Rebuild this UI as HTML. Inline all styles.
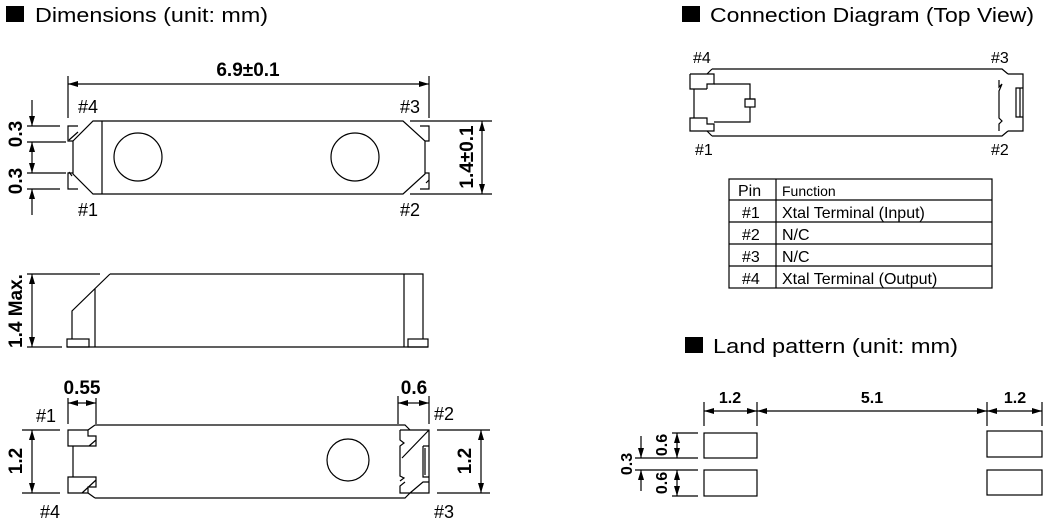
<!DOCTYPE html>
<html><head><meta charset="utf-8"><style>
html,body{margin:0;padding:0;background:#fff;}
svg{display:block;}
text{font-family:"Liberation Sans",sans-serif;fill:#000;}
.t{font-size:20px;}
.d{font-size:19px;font-weight:bold;}
.p{font-size:18px;}
.s{font-size:16px;}
</style></head><body>
<svg width="1046" height="521" viewBox="0 0 1046 521" xmlns="http://www.w3.org/2000/svg">
<defs>
<marker id="a" viewBox="0 0 10 6" refX="10" refY="3" markerWidth="10" markerHeight="6" markerUnits="userSpaceOnUse" orient="auto-start-reverse"><path d="M0,0L10,3L0,6z" fill="#000"/></marker>
</defs>
<g stroke="#000" stroke-width="1.2" fill="none">
<!-- TOP VIEW -->
<line x1="68" y1="76" x2="68" y2="118"/><line x1="429" y1="76" x2="429" y2="118"/>
<line x1="68" y1="84" x2="429" y2="84" marker-start="url(#a)" marker-end="url(#a)"/>
<polygon points="93,121 403,121 425,141 425,174 403,194 93,194 73,174 73,141"/>
<line x1="102" y1="121" x2="102" y2="194"/>
<path d="M78,126H68V141H73M78,189H68V173H73M420,126H429V141H425M420,189H429V173H425"/>
<path d="M69,140L78,132M69,172L72,176M426,183L429,180"/>
<circle cx="138" cy="157" r="24"/><circle cx="355" cy="157" r="24"/>
<path d="M27,126H60M27,142H66M27,173H66M27,189H60"/>
<line x1="32" y1="100" x2="32" y2="126" marker-end="url(#a)"/>
<line x1="32" y1="142" x2="32" y2="157" marker-start="url(#a)"/>
<line x1="32" y1="157" x2="32" y2="173" marker-end="url(#a)"/>
<line x1="32" y1="215" x2="32" y2="189" marker-end="url(#a)"/>
<path d="M410,121H492M410,194H492"/>
<line x1="482" y1="121" x2="482" y2="194" marker-start="url(#a)" marker-end="url(#a)"/>
<!-- SIDE VIEW -->
<path d="M110,274H423V339M110,274L72,311V339M95,289V347M404,274V347"/>
<rect x="67" y="339" width="22" height="8"/><rect x="408" y="339" width="20" height="8"/>
<line x1="67" y1="347" x2="428" y2="347"/>
<path d="M27,274H100M27,347H62"/>
<line x1="32" y1="274" x2="32" y2="347" marker-start="url(#a)" marker-end="url(#a)"/>
<!-- BOTTOM VIEW -->
<path d="M95,425H405L410,430M95,425L88,430M95,498H405L410,493M95,498L88,493"/>
<path d="M68,430H88V436H96V446H68ZM96,440L89,446M73,446V477M68,477H96V487H88V493H68ZM96,480L82,493"/>
<path d="M400,430H429V493H400V486L405,482M400,430V440L404,443L400,446V476L404,478L400,481M429,430L402,458M423,446H429M423,446V477H429M425,448V475M410,493L423,482H429"/>
<circle cx="348" cy="460" r="21"/>
<path d="M68,398V424M96,398V424M398,396V424M429,396V424"/>
<line x1="68" y1="403" x2="82" y2="403" marker-start="url(#a)"/>
<line x1="82" y1="403" x2="96" y2="403" marker-end="url(#a)"/>
<line x1="398" y1="403" x2="414" y2="403" marker-start="url(#a)"/>
<line x1="414" y1="403" x2="429" y2="403" marker-end="url(#a)"/>
<path d="M22,430H60M22,493H60M437,430H490M437,493H490"/>
<line x1="32" y1="430" x2="32" y2="493" marker-start="url(#a)" marker-end="url(#a)"/>
<line x1="481" y1="430" x2="481" y2="493" marker-start="url(#a)" marker-end="url(#a)"/>
<!-- CONNECTION DIAGRAM -->
<path d="M712,69H1002L1008,74M712,69L707,74M712,136H1002L1008,131M712,136L707,131"/>
<path d="M690,74H714V84H707V89M690,74V89H707M694,89V118M690,118H707V124H714V131H690Z"/>
<path d="M714,84H750V99M714,122H750V107"/>
<rect x="745" y="99" width="10" height="8"/><line x1="745" y1="99" x2="755" y2="99"/>
<path d="M1008,74H1023V117H1020V88M1023,88H1016V117H1023V131H1008M999,80V87L1002,84L999,91V118L1002,121L999,124V131"/>
<!-- TABLE -->
<rect x="729" y="179" width="263" height="109"/>
<path d="M776,179V288M729,200H992M729,222H992M729,244H992M729,266H992"/>
<!-- LAND PATTERN -->
<rect x="704" y="433" width="53" height="25"/><rect x="704" y="470" width="53" height="26"/>
<rect x="987" y="431" width="55" height="26"/><rect x="987" y="470" width="55" height="25"/>
<path d="M704,402V426M757,402V426M987,402V426M1042,402V426"/>
<line x1="704" y1="411" x2="757" y2="411" marker-start="url(#a)" marker-end="url(#a)"/>
<line x1="757" y1="411" x2="987" y2="411" marker-start="url(#a)" marker-end="url(#a)"/>
<line x1="987" y1="411" x2="1042" y2="411" marker-start="url(#a)" marker-end="url(#a)"/>
<path d="M672,433H698M635,458H698M635,470H698M672,496H698"/>
<line x1="677" y1="433" x2="677" y2="458" marker-start="url(#a)" marker-end="url(#a)"/>
<line x1="677" y1="470" x2="677" y2="496" marker-start="url(#a)" marker-end="url(#a)"/>
<line x1="641" y1="436" x2="641" y2="458" marker-end="url(#a)"/>
<line x1="641" y1="491" x2="641" y2="470" marker-end="url(#a)"/>
</g>
<rect x="6" y="6" width="18" height="16" fill="#000"/>
<text class="t" x="35" y="22" textLength="233" lengthAdjust="spacingAndGlyphs">Dimensions (unit: mm)</text>
<rect x="682" y="6" width="18" height="16" fill="#000"/>
<text class="t" x="710" y="22" textLength="324" lengthAdjust="spacingAndGlyphs">Connection Diagram (Top View)</text>
<rect x="685" y="337" width="18" height="16" fill="#000"/>
<text class="t" x="713" y="353" textLength="245" lengthAdjust="spacingAndGlyphs">Land pattern (unit: mm)</text>

<text class="d" x="248" y="76" text-anchor="middle">6.9±0.1</text>
<text class="p" x="78" y="113">#4</text><text class="p" x="400" y="113">#3</text>
<text class="p" x="78" y="216">#1</text><text class="p" x="400" y="216">#2</text>
<text class="d" transform="translate(22,134) rotate(-90)" text-anchor="middle">0.3</text>
<text class="d" transform="translate(22,181) rotate(-90)" text-anchor="middle">0.3</text>
<text class="d" transform="translate(473,157) rotate(-90)" text-anchor="middle">1.4±0.1</text>
<text class="d" transform="translate(22,311) rotate(-90)" text-anchor="middle">1.4 Max.</text>
<text class="d" x="82" y="394" text-anchor="middle">0.55</text>
<text class="d" x="414" y="394" text-anchor="middle">0.6</text>
<text class="p" x="36" y="422">#1</text><text class="p" x="40" y="518">#4</text>
<text class="p" x="434" y="420">#2</text><text class="p" x="434" y="518">#3</text>
<text class="d" transform="translate(22,461) rotate(-90)" text-anchor="middle">1.2</text>
<text class="d" transform="translate(471,461) rotate(-90)" text-anchor="middle">1.2</text>

<text class="s" x="693" y="63">#4</text><text class="s" x="991" y="63">#3</text>
<text class="s" x="695" y="155">#1</text><text class="s" x="991" y="155">#2</text>

<text class="s" x="738" y="196">Pin</text><text x="782" y="196" style="font-size:14px">Function</text>
<text class="s" x="742" y="218">#1</text><text class="s" x="782" y="218">Xtal Terminal (Input)</text>
<text class="s" x="742" y="240">#2</text><text class="s" x="782" y="240">N/C</text>
<text class="s" x="742" y="262">#3</text><text class="s" x="782" y="262">N/C</text>
<text class="s" x="742" y="284">#4</text><text class="s" x="782" y="284">Xtal Terminal (Output)</text>

<text class="d" style="font-size:16px" x="730" y="403" text-anchor="middle">1.2</text>
<text class="d" style="font-size:16px" x="872" y="403" text-anchor="middle">5.1</text>
<text class="d" style="font-size:16px" x="1015" y="403" text-anchor="middle">1.2</text>
<text class="d" style="font-size:16px" transform="translate(667,445) rotate(-90)" text-anchor="middle">0.6</text>
<text class="d" style="font-size:16px" transform="translate(667,483) rotate(-90)" text-anchor="middle">0.6</text>
<text class="d" style="font-size:16px" transform="translate(632,464) rotate(-90)" text-anchor="middle">0.3</text>
</svg>
</body></html>
